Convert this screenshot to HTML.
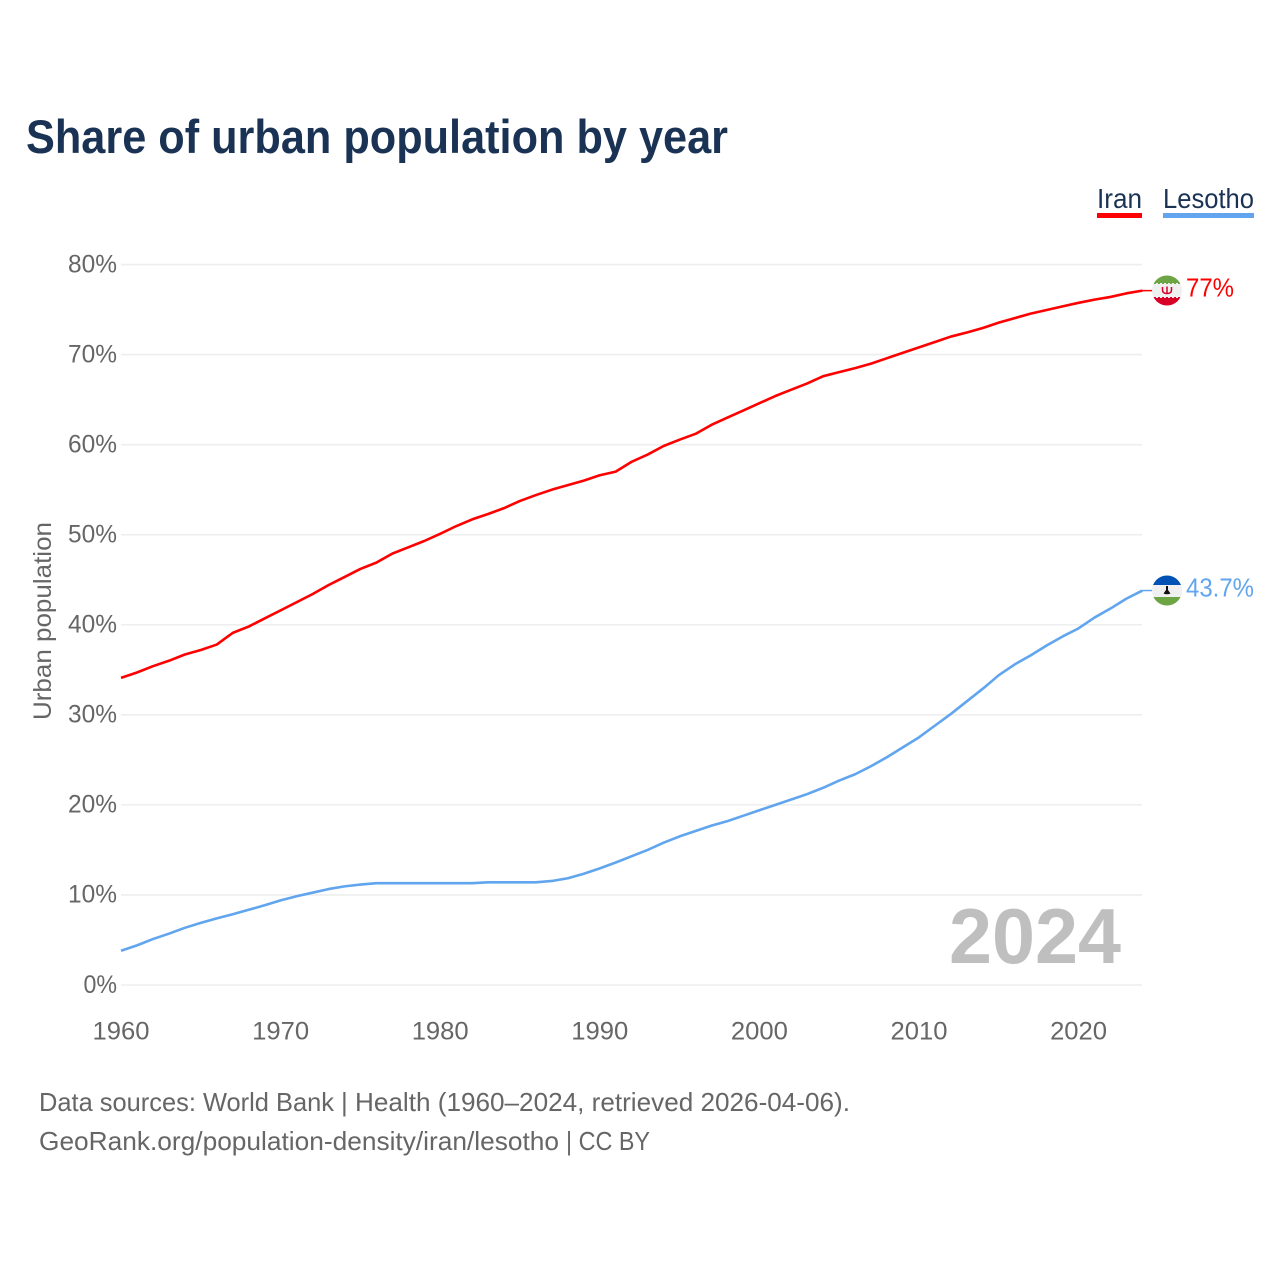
<!DOCTYPE html>
<html lang="en">
<head>
<meta charset="utf-8">
<title>Share of urban population by year</title>
<style>
html,body{margin:0;padding:0;background:#fff}
svg{display:block}
text{font-family:"Liberation Sans",sans-serif}
</style>
</head>
<body>
<svg id="chart" width="1280" height="1280" viewBox="0 0 1280 1280" xmlns="http://www.w3.org/2000/svg">
  <rect width="1280" height="1280" fill="#fff"/>
  <text x="26" y="153" font-size="47" font-weight="700" fill="#1a3354" textLength="702" lengthAdjust="spacingAndGlyphs">Share of urban population by year</text>

  <g>
    <g>
      <text x="1097" y="208" font-size="28" fill="#1a3354" textLength="45" lengthAdjust="spacingAndGlyphs">Iran</text>
      <rect x="1097" y="213" width="45" height="5" fill="#ff0000"/>
    </g>
    <g>
      <text x="1163" y="208" font-size="28" fill="#1a3354" textLength="91" lengthAdjust="spacingAndGlyphs">Lesotho</text>
      <rect x="1163" y="213" width="91" height="5" fill="#60a5ee"/>
    </g>
  </g>

  <text transform="translate(51 621) rotate(-90)" text-anchor="middle" font-size="25" fill="#666" textLength="198" lengthAdjust="spacingAndGlyphs">Urban population</text>

  <g id="grid"></g>
  <g id="yticks"></g>
  <g id="xticks"></g>

  <text x="1121" y="963" text-anchor="end" font-size="78" font-weight="700" fill="#bfbfbf" textLength="172" lengthAdjust="spacingAndGlyphs">2024</text>

  <g id="series"></g>

  <defs>
    <clipPath id="clip-iran"><circle cx="1167" cy="290.5" r="15"/></clipPath>
    <clipPath id="clip-lesotho"><circle cx="1167" cy="590.5" r="15"/></clipPath>
  </defs>

  <g id="flag-iran" clip-path="url(#clip-iran)">
    <rect x="1152" y="275" width="30" height="31" fill="#f0f0f0"/>
    <rect x="1152" y="275" width="30" height="9" fill="#6da544"/>
    <rect x="1152" y="297" width="30" height="9" fill="#d80027"/>
    <line x1="1152" x2="1182" y1="284" y2="284" stroke="#f0f0f0" stroke-width="2" stroke-dasharray="2 2"/>
    <line x1="1152" x2="1182" y1="297" y2="297" stroke="#f0f0f0" stroke-width="2" stroke-dasharray="2 2"/>
    <path d="M1162.500 287v3q0 3.500 4.500 3.500t4.500-3.500v-3M1167 286.500v7" fill="none" stroke="#d80027" stroke-width="1.500"/>
  </g>
  <g id="flag-lesotho" clip-path="url(#clip-lesotho)">
    <rect x="1152" y="575" width="30" height="31" fill="#f0f0f0"/>
    <rect x="1152" y="575" width="30" height="10" fill="#0052b4"/>
    <rect x="1152" y="597" width="30" height="9" fill="#6da544"/>
    <path d="M1166 586h2v4l2.500 3.500q-3.500 1.500-7 0l2.500-3.500z" fill="#111"/>
  </g>

  <g id="end-labels"></g>

  <g>
    <text y="1111" font-size="26" fill="#666"><tspan x="39" textLength="295" lengthAdjust="spacingAndGlyphs">Data sources: World Bank</tspan><tspan x="341" textLength="509" lengthAdjust="spacingAndGlyphs">| Health (1960–2024, retrieved 2026-04-06).</tspan></text>
    <text y="1150" font-size="26" fill="#666"><tspan x="39" textLength="520" lengthAdjust="spacingAndGlyphs">GeoRank.org/population-density/iran/lesotho</tspan><tspan x="566" textLength="84" lengthAdjust="spacingAndGlyphs">| CC BY</tspan></text>
  </g>
</svg>
<script>
var startYear = 1960;
var endYear = 2024;
var iranValues = [34.1,34.7,35.4,36.0,36.7,37.2,37.8,39.1,39.8,40.7,41.6,42.5,43.4,44.4,45.3,46.2,46.9,47.9,48.6,49.3,50.1,50.95,51.7,52.3,52.95,53.75,54.4,55.0,55.5,56.0,56.6,57.0,58.1,58.9,59.85,60.55,61.2,62.2,63.0,63.8,64.6,65.4,66.1,66.8,67.6,68.05,68.5,69.0,69.6,70.2,70.8,71.4,72.0,72.45,72.95,73.55,74.05,74.55,74.95,75.35,75.75,76.1,76.4,76.8,77.1];
var lesothoValues = [3.8,4.4,5.1,5.7,6.35,6.9,7.4,7.85,8.35,8.85,9.4,9.85,10.25,10.65,10.95,11.15,11.3,11.3,11.3,11.3,11.3,11.3,11.3,11.4,11.4,11.4,11.4,11.55,11.85,12.35,12.95,13.6,14.3,15.0,15.8,16.5,17.1,17.7,18.2,18.8,19.4,20.0,20.6,21.2,21.9,22.7,23.4,24.3,25.3,26.4,27.5,28.8,30.1,31.5,32.9,34.4,35.6,36.6,37.7,38.7,39.6,40.8,41.8,42.9,43.8];
var yTickValues = [0,10,20,30,40,50,60,70,80];
var xTickYears = [1960,1970,1980,1990,2000,2010,2020];
var iranEndLabel = "77%";
var lesothoEndLabel = "43.7%";

var NS = "http://www.w3.org/2000/svg";
function xScale(year){ return 121 + (year - 1960) * (1142.4 - 121) / 64; }
function yScale(v){ return 985 - v * 9.006; }
function attrs(el, o){ for (var k in o) el.setAttribute(k, o[k]); return el; }
function shape(tag, parentId, o){ var el = attrs(document.createElementNS(NS, tag), o); document.getElementById(parentId).appendChild(el); return el; }
function linePoints(values){
  return values.map(function(v, i){ return xScale(startYear + i).toFixed(2) + "," + yScale(v).toFixed(2); }).join(" ");
}

yTickValues.forEach(function(v){
  var grid = shape("line", "grid", {x1:121, x2:1142, y1:yScale(v), y2:yScale(v), stroke:"#eeeeee", "stroke-width":1.6});
  
  
  var s = v + "%";
  var label = shape("text", "yticks", {x:117, y:yScale(v) + 7.8, "text-anchor":"end", "font-size":25, fill:"#666", textLength:(s.length === 2 ? 33.5 : 49), lengthAdjust:"spacingAndGlyphs"});
  label.textContent = s;
  
  
});

xTickYears.forEach(function(year){
  var label = shape("text", "xticks", {x:xScale(year), y:1039.5, "text-anchor":"middle", "font-size":25, fill:"#666", textLength:57, lengthAdjust:"spacingAndGlyphs"});
  label.textContent = String(year);
  
  
});

var lesothoLine = shape("polyline", "series", {points:linePoints(lesothoValues), fill:"none", stroke:"#60a5ee", "stroke-width":2.6, "stroke-linejoin":"round"});


var iranLine = shape("polyline", "series", {points:linePoints(iranValues), fill:"none", stroke:"#ff0000", "stroke-width":2.6, "stroke-linejoin":"round"});



var iranLast = iranValues[iranValues.length - 1];
var lesothoLast = lesothoValues[lesothoValues.length - 1];
var iranStub = shape("line", "series", {x1:xScale(endYear), x2:1153, y1:yScale(iranLast), y2:yScale(iranLast), stroke:"#ff0000", "stroke-width":1.5});


var lesothoStub = shape("line", "series", {x1:xScale(endYear), x2:1153, y1:yScale(lesothoLast), y2:yScale(lesothoLast), stroke:"#60a5ee", "stroke-width":1.5});



var iranLabel = shape("text", "end-labels", {x:1186, y:yScale(iranLast) + 5.9, "font-size":26, fill:"#ff0000", textLength:48, lengthAdjust:"spacingAndGlyphs"});
iranLabel.textContent = iranEndLabel;


var lesothoLabel = shape("text", "end-labels", {x:1186, y:yScale(lesothoLast) + 5.9, "font-size":26, fill:"#60a5ee", textLength:68, lengthAdjust:"spacingAndGlyphs"});
lesothoLabel.textContent = lesothoEndLabel;


</script>
</body>
</html>
